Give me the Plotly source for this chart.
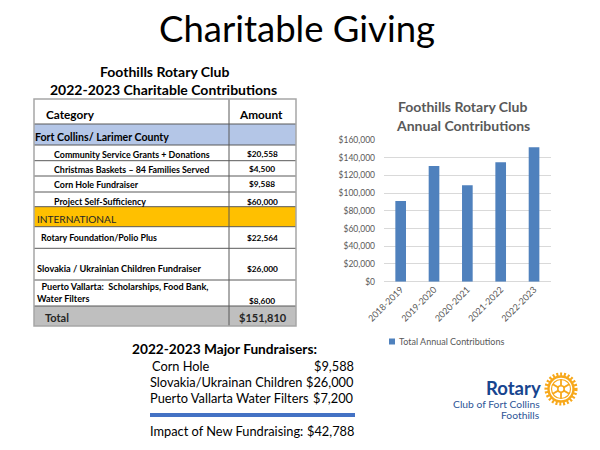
import math
import plotly.graph_objects as go

# --- data ---
years = ['2018-2019', '2019-2020', '2020-2021', '2021-2022', '2022-2023']
annual_totals = [91000, 130700, 108800, 134800, 151810]

table_labels = [
    'Fort Collins/ Larimer County',
    'Community Service Grants + Donations',
    'Christmas Baskets \u2013 84 Families Served',
    'Corn Hole Fundraiser',
    'Project Self-Sufficiency',
    'INTERNATIONAL',
    'Rotary Foundation/Polio Plus',
    'Slovakia / Ukrainian Children Fundraiser',
    '\u00a0\u00a0Puerto Vallarta:  Scholarships, Food Bank,<br>Water Filters',
]
table_amounts = [None, 20558, 4500, 9588, 60000, None, 22564, 26000, 8600]

fundraisers = ['Corn Hole', 'Slovakia/Ukrainan Children', 'Puerto Vallarta Water Filters']
fundraiser_amounts = [9588, 26000, 7200]
new_fundraising_total = 42788

W, H = 600, 450
FONT = 'Lato'


def fx(x):
    return x / W


def fy(y):
    return 1 - y / H


def money(v):
    return '${:,.0f}'.format(v)


fig = go.Figure()

# bar chart on the right
fig.add_trace(go.Bar(
    x=years, y=annual_totals, name='Total Annual Contributions',
    marker=dict(color='#4f81bd', line=dict(width=0)), showlegend=False, hoverinfo='skip'))

shapes = []
annotations = []


def text(x, y, s, size, bold=False, color='black', xanchor='left', yanchor='middle', align='left'):
    annotations.append(dict(
        x=fx(x), y=fy(y), xref='paper', yref='paper', text=s, showarrow=False,
        xanchor=xanchor, yanchor=yanchor, align=align,
        font=dict(family=FONT, size=size, color=color, weight='bold' if bold else 'normal')))


def rect(x0, y0, x1, y1, fill=None, line=None, width=1):
    shapes.append(dict(
        type='rect', xref='paper', yref='paper',
        x0=fx(x0), x1=fx(x1), y0=fy(y0), y1=fy(y1),
        fillcolor=fill if fill else 'rgba(0,0,0,0)',
        line=dict(color=line if line else 'rgba(0,0,0,0)', width=width), layer='below'))


def hline(x0, x1, y, color, width=1):
    shapes.append(dict(type='line', xref='paper', yref='paper',
                       x0=fx(x0), x1=fx(x1), y0=fy(y), y1=fy(y),
                       line=dict(color=color, width=width)))


# slide title
text(297, 27.5, 'Charitable Giving', 36.5, xanchor='center')

# table caption
text(164, 71, 'Foothills Rotary Club', 14, bold=True, xanchor='center')
text(163, 89, '2022-2023 Charitable Contributions', 14, bold=True, xanchor='center')

# table layout
TL, TM, TR = 34, 229, 296
row_edges = [99, 124, 145, 160.7, 176, 192, 206.7, 226.7, 248.3, 280, 306, 326]
row_fill = [None, '#b4c6e7', None, None, None, None, '#ffc000', None, None, None, '#bfbfbf']
label_x = [33, 52, 52, 52, 52, 35, 39, 35, 35]
label_y = [137, 154, 169, 184.5, 201.5, 219, 237.5, 268.5, 309]
label_size = [10.6, 8.9, 8.9, 8.9, 8.9, 10.1, 8.9, 9.2, 9.1]
label_bold = [True, True, True, True, True, False, True, True, True]

for i, fill in enumerate(row_fill):
    if fill:
        rect(TL, row_edges[i], TR, row_edges[i + 1], fill=fill)
for e in row_edges[1:-1]:
    hline(TL, TR, e, '#595959', 1)
shapes.append(dict(type='line', xref='paper', yref='paper', x0=fx(TM), x1=fx(TM),
                   y0=fy(row_edges[0]), y1=fy(row_edges[-1]), line=dict(color='#595959', width=1)))
rect(TL, row_edges[0], TR, row_edges[-1], line='#a6a6a6', width=1.5)
shapes[-1]['layer'] = 'above'

text(44, 115, 'Category', 11.8, bold=True)
text(261, 115, 'Amount', 11.8, bold=True, xanchor='center')
for i, lab in enumerate(table_labels):
    ya = 'bottom' if '<br>' in lab else 'middle'
    text(label_x[i], label_y[i] - (3 if ya == 'bottom' else 0), lab, label_size[i],
         bold=label_bold[i], yanchor=ya, color='#262626' if not label_bold[i] else 'black')
    if table_amounts[i] is not None:
        ay = 300.7 if '<br>' in lab else label_y[i]
        text(262, ay, money(table_amounts[i]), 8.3, bold=True, xanchor='center')
text(43, 317, 'Total', 11, bold=True, color='#262626')
text(263, 317, money(sum(a for a in table_amounts if a)), 11, bold=True, xanchor='center', color='#262626')

# chart title and legend
text(463, 107, 'Foothills Rotary Club', 14, bold=True, color='#595959', xanchor='center')
text(463, 125.5, 'Annual Contributions', 14, bold=True, color='#595959', xanchor='center')
rect(389, 338.5, 395, 344.5, fill='#4f81bd')
text(397, 341.5, 'Total Annual Contributions', 9, color='#595959')

# major fundraisers
text(224, 348.5, '2022-2023 Major Fundraisers:', 13.7, bold=True, xanchor='center')
for i, (name, amt) in enumerate(zip(fundraisers, fundraiser_amounts)):
    y = 366 + i * 16
    text(150 if i == 0 else 148, y, name, 12.8)
    text(356, y, money(amt), 12.8, xanchor='right')
hline(150, 355, 415, '#4472c4', 4)
text(148, 431, 'Impact of New Fundraising:', 12.8)
text(356, 431, money(new_fundraising_total), 12.8, xanchor='right')

# Rotary logo
text(543, 388, 'Rotary', 18.5, bold=True, color='#17458f', xanchor='right')
text(542, 404, 'Club of Fort Collins', 10.3, color='#2e5597', xanchor='right')
text(542, 414.5, 'Foothills', 10.3, color='#2e5597', xanchor='right')
gx, gy = 561, 389
GOLD = '#f7a81b'


def circle(r, color, width, dash='solid', fill=None):
    shapes.append(dict(type='circle', xref='paper', yref='paper',
                       x0=fx(gx - r), x1=fx(gx + r), y0=fy(gy - r), y1=fy(gy + r),
                       fillcolor=fill if fill else 'rgba(0,0,0,0)',
                       line=dict(color=color, width=width, dash=dash)))


circle(14.8, GOLD, 3.5, dash='2px,1.8px')
circle(12.5, GOLD, 2.4)
circle(9.5, GOLD, 1.2)
circle(3.2, GOLD, 1.6, fill='white')
for k in range(6):
    a = math.pi / 3 * k + math.pi / 6
    shapes.append(dict(type='line', xref='paper', yref='paper',
                       x0=fx(gx + 3.2 * math.cos(a)), y0=fy(gy + 3.2 * math.sin(a)),
                       x1=fx(gx + 9.5 * math.cos(a)), y1=fy(gy + 9.5 * math.sin(a)),
                       line=dict(color=GOLD, width=1.8)))

fig.update_layout(
    template='none',
    width=W, height=H,
    margin=dict(l=0, r=0, t=0, b=0, pad=0),
    paper_bgcolor='white', plot_bgcolor='white',
    font=dict(family=FONT, color='#595959'),
    bargap=0.68,
    showlegend=False,
    shapes=shapes, annotations=annotations,
    xaxis=dict(domain=[fx(384), fx(550.7)], anchor='y', tickangle=-45, automargin=False,
               tickfont=dict(size=9, color='#595959'), showgrid=False,
               showline=False, ticks=''),
    yaxis=dict(domain=[fy(281.7), fy(140)], anchor='x', range=[0, 160000], dtick=20000,
               automargin=False, tickformat='$,.0f', tickfont=dict(size=8.5, color='#595959'),
               gridcolor='#d9d9d9', gridwidth=1, zeroline=True, zerolinecolor='#d9d9d9',
               zerolinewidth=1, showline=False, ticks='', ticklabelstandoff=8),
)

# page body has a default margin; drop it so the 600x450 figure fills the window
fig.write_html('out.html', config={'displayModeBar': False},
               post_script="document.body.style.margin='0';document.body.style.overflow='hidden';")
